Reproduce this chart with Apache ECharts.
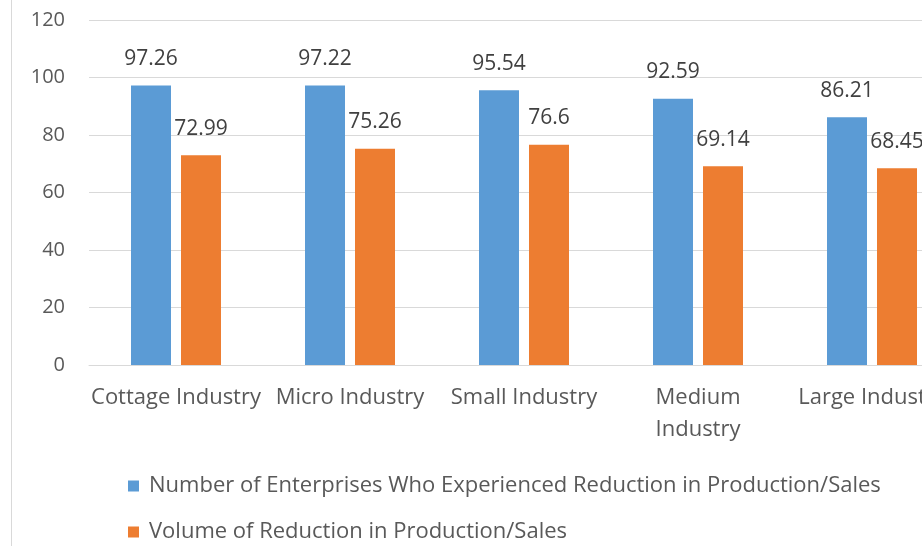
<!DOCTYPE html>
<html>
<head>
<meta charset="utf-8">
<script src="https://cdn.jsdelivr.net/npm/echarts@6/dist/echarts.min.js"></script>
<style>
  html, body { margin: 0; padding: 0; background: #ffffff; }
  #chart { width: 922px; height: 546px; }
</style>
</head>
<body>
<div id="chart"></div>
<script>
// Industry categories along the x axis
const categories = ['Cottage Industry', 'Micro Industry', 'Small Industry', 'Medium\nIndustry', 'Large Industry'];
// Share of enterprises reporting a drop in production/sales (%)
const enterprisesReduced = [97.26, 97.22, 95.54, 92.59, 86.21];
// Size of the drop in production/sales (%)
const volumeReduced = [72.99, 75.26, 76.6, 69.14, 68.45];
const seriesNames = [
  'Number of Enterprises Who Experienced Reduction in Production/Sales',
  'Volume of Reduction in Production/Sales'
];
// y-axis scale
const yMin = 0, yMax = 120, yStep = 20;

const FONT = '"Open Sans", "Noto Sans", sans-serif';
const TEXT = '#595959';

const chart = echarts.init(document.getElementById('chart'), null, { renderer: 'canvas' });

const valueLabel = {
  show: true,
  position: 'top',
  distance: 16,
  color: '#404040',
  fontFamily: FONT,
  fontSize: 21
};

const legendText = { color: TEXT, fontFamily: FONT, fontSize: 22, lineHeight: 24, padding: [0, 0, 0, 5] };

chart.setOption({
  animation: false,
  backgroundColor: '#ffffff',
  // plot area runs past the right edge, so the last group is clipped
  grid: { left: 89, top: 20, width: 870, height: 345, containLabel: false, outerBoundsMode: 'none' },
  xAxis: {
    type: 'category',
    data: categories,
    axisLine: { show: true, lineStyle: { color: '#d9d9d9', width: 1 } },
    axisTick: { show: false },
    axisLabel: {
      color: TEXT, fontFamily: FONT, fontSize: 22, lineHeight: 32, margin: 17, interval: 0
    }
  },
  yAxis: {
    type: 'value',
    min: yMin, max: yMax, interval: yStep,
    axisLine: { show: false },
    axisTick: { show: false },
    splitLine: { lineStyle: { color: '#d9d9d9', width: 1 } },
    axisLabel: { color: TEXT, fontFamily: FONT, fontSize: 20, margin: 24 }
  },
  legend: [
    {
      left: 123, top: 469, itemWidth: 11, itemHeight: 11, icon: 'rect',
      textStyle: legendText, data: [seriesNames[0]]
    },
    {
      left: 123, top: 515, itemWidth: 11, itemHeight: 11, icon: 'rect',
      textStyle: legendText, data: [seriesNames[1]]
    }
  ],
  graphic: [{
    type: 'line',
    shape: { x1: 11.5, y1: 0, x2: 11.5, y2: 546 },
    style: { stroke: '#d9d9d9', lineWidth: 1 }
  }],
  series: [
    {
      name: seriesNames[0],
      type: 'bar',
      data: enterprisesReduced,
      barWidth: 40,
      barGap: '25%',
      itemStyle: { color: '#5b9bd5' },
      label: valueLabel
    },
    {
      name: seriesNames[1],
      type: 'bar',
      data: volumeReduced,
      barWidth: 40,
      itemStyle: { color: '#ed7d31' },
      label: valueLabel
    }
  ]
});
</script>
</body>
</html>
